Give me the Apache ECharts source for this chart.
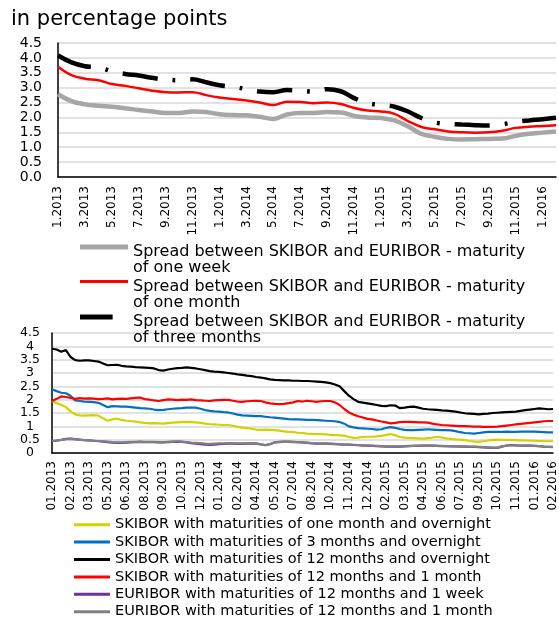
<!DOCTYPE html>
<html>
<head>
<meta charset="utf-8">
<script src="https://cdn.jsdelivr.net/npm/echarts@6/dist/echarts.min.js"></script>
<style>
  html, body { margin: 0; padding: 0; background: #fff; }
  #chart { width: 559px; height: 618px; }
</style>
</head>
<body>
<div id="chart"></div>
<script>
// top panel: monthly spreads, 1.2013 - 2.2016
var months = ['1.2013', '2.2013', '3.2013', '4.2013', '5.2013', '6.2013', '7.2013', '8.2013', '9.2013', '10.2013', '11.2013', '12.2013',
  '1.2014', '2.2014', '3.2014', '4.2014', '5.2014', '6.2014', '7.2014', '8.2014', '9.2014', '10.2014', '11.2014', '12.2014',
  '1.2015', '2.2015', '3.2015', '4.2015', '5.2015', '6.2015', '7.2015', '8.2015', '9.2015', '10.2015', '11.2015', '12.2015',
  '1.2016', '2.2016']
var spreadWeek = [2.78, 2.55, 2.44, 2.39, 2.36, 2.31, 2.25, 2.20, 2.15, 2.15, 2.20, 2.18,
  2.11, 2.08, 2.07, 2.02, 1.95, 2.10, 2.15, 2.15, 2.18, 2.17, 2.05, 2.00,
  1.98, 1.90, 1.70, 1.45, 1.35, 1.28, 1.26, 1.27, 1.28, 1.29, 1.38, 1.45,
  1.49, 1.53]
var spreadMonth = [3.70, 3.42, 3.30, 3.25, 3.12, 3.06, 2.98, 2.90, 2.85, 2.84, 2.85, 2.75,
  2.67, 2.62, 2.57, 2.50, 2.42, 2.53, 2.52, 2.48, 2.50, 2.45, 2.32, 2.23,
  2.20, 2.12, 1.88, 1.68, 1.60, 1.53, 1.50, 1.49, 1.50, 1.55, 1.65, 1.69,
  1.71, 1.74]
var spread3Months = [4.08, 3.85, 3.72, 3.68, 3.55, 3.46, 3.41, 3.33, 3.27, 3.25, 3.28, 3.18,
  3.08, 3.03, 2.95, 2.87, 2.85, 2.92, 2.90, 2.87, 2.95, 2.88, 2.65, 2.48,
  2.42, 2.36, 2.20, 1.98, 1.83, 1.79, 1.76, 1.74, 1.73, 1.77, 1.85, 1.90,
  1.94, 1.99]

// bottom panel: tick labels, 4 observations per label step
var tickLabels = ['01.2013', '02.2013', '03.2013', '05.2013', '06.2013', '08.2013', '09.2013', '10.2013', '12.2013',
  '01.2014', '02.2014', '04.2014', '05.2014', '07.2014', '08.2014', '10.2014', '11.2014', '12.2014',
  '02.2015', '03.2015', '04.2015', '06.2015', '07.2015', '09.2015', '10.2015', '11.2015', '01.2016', '02.2016']
var sk1mOn = [1.95, 1.87, 1.81, 1.72, 1.56, 1.45, 1.41, 1.40, 1.41, 1.42, 1.40, 1.30, 1.21, 1.26, 1.29, 1.24, 1.21, 1.20, 1.18, 1.15,
  1.13, 1.11, 1.12, 1.11, 1.10, 1.12, 1.14, 1.15, 1.16, 1.17, 1.16, 1.15, 1.13, 1.10, 1.08, 1.07, 1.06, 1.05, 1.05, 1.02,
  0.98, 0.95, 0.93, 0.91, 0.88, 0.87, 0.88, 0.87, 0.86, 0.84, 0.81, 0.79, 0.78, 0.76, 0.75, 0.73, 0.72, 0.71, 0.71, 0.70,
  0.68, 0.67, 0.66, 0.65, 0.60, 0.57, 0.58, 0.60, 0.61, 0.61, 0.62, 0.64, 0.68, 0.71, 0.66, 0.60, 0.58, 0.57, 0.56, 0.55,
  0.54, 0.56, 0.58, 0.61, 0.58, 0.55, 0.53, 0.51, 0.50, 0.48, 0.45, 0.43, 0.42, 0.44, 0.47, 0.49, 0.50, 0.49, 0.49, 0.48,
  0.48, 0.47, 0.47, 0.46, 0.46, 0.45, 0.45, 0.44, 0.44]
var sk3mOn = [2.39, 2.32, 2.26, 2.24, 2.15, 1.97, 1.95, 1.93, 1.92, 1.91, 1.88, 1.80, 1.72, 1.76, 1.75, 1.74, 1.74, 1.72, 1.70, 1.68,
  1.67, 1.66, 1.63, 1.61, 1.62, 1.64, 1.66, 1.67, 1.68, 1.70, 1.70, 1.70, 1.66, 1.61, 1.58, 1.56, 1.55, 1.53, 1.52, 1.48,
  1.44, 1.41, 1.40, 1.39, 1.38, 1.38, 1.36, 1.34, 1.33, 1.31, 1.29, 1.27, 1.26, 1.26, 1.25, 1.24, 1.24, 1.23, 1.22, 1.21,
  1.20, 1.19, 1.16, 1.10, 1.00, 0.96, 0.93, 0.92, 0.91, 0.90, 0.88, 0.89, 0.94, 0.97, 0.94, 0.90, 0.87, 0.86, 0.86, 0.87,
  0.88, 0.89, 0.88, 0.87, 0.86, 0.86, 0.85, 0.82, 0.78, 0.75, 0.74, 0.73, 0.75, 0.77, 0.79, 0.79, 0.79, 0.79, 0.80, 0.79,
  0.79, 0.80, 0.80, 0.80, 0.80, 0.79, 0.78, 0.77, 0.77]
var sk12mOn = [3.91, 3.88, 3.80, 3.86, 3.60, 3.48, 3.46, 3.47, 3.47, 3.45, 3.43, 3.36, 3.29, 3.30, 3.31, 3.27, 3.25, 3.24, 3.22, 3.21,
  3.20, 3.19, 3.17, 3.11, 3.09, 3.13, 3.16, 3.18, 3.19, 3.21, 3.19, 3.17, 3.14, 3.11, 3.07, 3.05, 3.04, 3.02, 3.00, 2.98,
  2.95, 2.93, 2.90, 2.88, 2.85, 2.83, 2.80, 2.76, 2.74, 2.73, 2.72, 2.72, 2.71, 2.71, 2.70, 2.70, 2.69, 2.68, 2.67, 2.65,
  2.62, 2.57, 2.50, 2.32, 2.15, 2.02, 1.92, 1.89, 1.86, 1.83, 1.80, 1.77, 1.76, 1.79, 1.78, 1.68, 1.70, 1.73, 1.74, 1.70,
  1.66, 1.64, 1.63, 1.62, 1.60, 1.59, 1.57, 1.55, 1.52, 1.49, 1.48, 1.47, 1.45, 1.47, 1.48, 1.50, 1.51, 1.52, 1.53, 1.54,
  1.55, 1.58, 1.61, 1.63, 1.65, 1.67, 1.66, 1.64, 1.65]
var sk12m1m = [1.95, 2.03, 2.12, 2.10, 2.07, 2.03, 2.06, 2.04, 2.05, 2.04, 2.02, 2.03, 2.05, 2.01, 2.03, 2.04, 2.03, 2.05, 2.07, 2.08,
  2.02, 2.00, 1.97, 1.95, 1.98, 2.01, 2.00, 1.98, 2.00, 1.99, 2.01, 1.98, 1.97, 1.96, 1.95, 1.97, 1.98, 1.99, 1.99, 1.96,
  1.93, 1.92, 1.94, 1.95, 1.96, 1.95, 1.90, 1.86, 1.84, 1.83, 1.84, 1.87, 1.90, 1.95, 1.93, 1.96, 1.94, 1.92, 1.94, 1.95,
  1.95, 1.90, 1.80, 1.65, 1.52, 1.44, 1.38, 1.33, 1.28, 1.26, 1.22, 1.18, 1.15, 1.11, 1.13, 1.16, 1.17, 1.17, 1.16, 1.15,
  1.15, 1.14, 1.10, 1.07, 1.05, 1.04, 1.03, 1.02, 1.01, 1.01, 1.00, 0.99, 0.99, 0.98, 0.98, 0.98, 0.99, 1.01, 1.03, 1.05,
  1.07, 1.09, 1.11, 1.13, 1.15, 1.17, 1.19, 1.20, 1.20]
var eu12m1w = [0.45, 0.46, 0.49, 0.53, 0.54, 0.52, 0.50, 0.48, 0.47, 0.46, 0.44, 0.43, 0.41, 0.39, 0.38, 0.38, 0.39, 0.40, 0.41, 0.42,
  0.41, 0.41, 0.41, 0.40, 0.40, 0.41, 0.42, 0.43, 0.42, 0.40, 0.37, 0.35, 0.33, 0.31, 0.30, 0.31, 0.33, 0.34, 0.35, 0.35,
  0.34, 0.34, 0.35, 0.36, 0.35, 0.32, 0.29, 0.33, 0.40, 0.42, 0.43, 0.43, 0.42, 0.41, 0.40, 0.38, 0.36, 0.35, 0.35, 0.35,
  0.34, 0.33, 0.32, 0.31, 0.31, 0.30, 0.29, 0.28, 0.28, 0.27, 0.26, 0.25, 0.24, 0.24, 0.24, 0.24, 0.25, 0.26, 0.27, 0.27,
  0.28, 0.28, 0.28, 0.27, 0.26, 0.26, 0.25, 0.25, 0.24, 0.24, 0.23, 0.23, 0.22, 0.21, 0.20, 0.19, 0.19, 0.24, 0.28, 0.30,
  0.29, 0.28, 0.28, 0.28, 0.27, 0.26, 0.24, 0.23, 0.22]
var eu12m1m = [0.46, 0.47, 0.49, 0.52, 0.53, 0.51, 0.49, 0.48, 0.47, 0.46, 0.45, 0.44, 0.43, 0.41, 0.40, 0.40, 0.41, 0.42, 0.42, 0.43,
  0.42, 0.42, 0.42, 0.41, 0.41, 0.42, 0.43, 0.44, 0.43, 0.41, 0.39, 0.38, 0.37, 0.35, 0.34, 0.35, 0.36, 0.36, 0.37, 0.37,
  0.36, 0.36, 0.36, 0.37, 0.36, 0.33, 0.30, 0.34, 0.40, 0.41, 0.42, 0.42, 0.41, 0.41, 0.40, 0.39, 0.37, 0.36, 0.36, 0.36,
  0.35, 0.34, 0.33, 0.32, 0.32, 0.31, 0.30, 0.29, 0.29, 0.28, 0.27, 0.26, 0.26, 0.25, 0.25, 0.25, 0.26, 0.27, 0.27, 0.28,
  0.28, 0.28, 0.28, 0.27, 0.27, 0.26, 0.26, 0.25, 0.25, 0.25, 0.24, 0.24, 0.23, 0.22, 0.21, 0.20, 0.20, 0.25, 0.28, 0.29,
  0.28, 0.28, 0.28, 0.28, 0.27, 0.26, 0.24, 0.23, 0.23]

var FONT = 'DejaVu Sans, Verdana, sans-serif'
var STEP = 4

// one category per observation, the label only at each step
var obsDates = []
tickLabels.forEach(function (lab, k) {
  obsDates.push(lab)
  if (k < tickLabels.length - 1) {
    for (var j = 1; j < STEP; j++) obsDates.push(lab + '#' + j)
  }
})

var topNames = [
  'Spread between SKIBOR and EURIBOR - maturity\nof one week',
  'Spread between SKIBOR and EURIBOR - maturity\nof one month',
  'Spread between SKIBOR and EURIBOR - maturity\nof three months'
]
var botNames = [
  'SKIBOR with maturities of one month and overnight',
  'SKIBOR with maturities of 3 months and overnight',
  'SKIBOR with maturities of 12 months and overnight',
  'SKIBOR with maturities of 12 months and 1 month',
  'EURIBOR with maturities of 12 months and 1 week',
  'EURIBOR with maturities of 12 months and 1 month'
]
var botColors = ['#d2d200', '#0070c0', '#000000', '#ff0000', '#7030a0', '#808080']
var botData = [sk1mOn, sk3mOn, sk12mOn, sk12m1m, eu12m1w, eu12m1m]

function axisLine() {
  return { show: true, lineStyle: { color: '#000', width: 1.5 } }
}
function gridLines() {
  return { show: true, lineStyle: { color: '#d9d9d9', width: 1.5 } }
}

var chart = echarts.init(document.getElementById('chart'))

chart.setOption({
  animation: false,
  textStyle: { fontFamily: FONT },
  title: {
    text: 'in percentage points',
    left: 11,
    top: 9,
    padding: 0,
    textStyle: { fontFamily: FONT, fontSize: 21, fontWeight: 'normal', color: '#000' }
  },
  grid: [
    { left: 58, right: 3, top: 43, height: 134 },
    { left: 52, right: 3, top: 333, height: 120 }
  ],
  legend: [
    {
      orient: 'vertical',
      left: 80,
      top: 244,
      padding: 0,
      height: 120,
      itemWidth: 48,
      itemHeight: 32,
      itemGap: 3,
      itemStyle: { borderWidth: 0 },
      textStyle: { fontFamily: FONT, fontSize: 16, lineHeight: 16, color: '#000' },
      data: [
        { name: topNames[0], icon: 'path://M0,0H50V5H0Z M49.9,32H50V32.1H49.9Z' },
        { name: topNames[1], icon: 'path://M0,1H50V4H0Z M49.9,32H50V32.1H49.9Z' },
        { name: topNames[2], icon: 'path://M0,0H34V5H0Z M49.9,32H50V32.1H49.9Z' }
      ]
    },
    {
      orient: 'vertical',
      left: 74,
      top: 516,
      padding: 0,
      height: 130,
      itemWidth: 36,
      itemHeight: 3,
      itemGap: 0,
      icon: 'rect',
      itemStyle: { borderWidth: 0 },
      textStyle: { fontFamily: FONT, fontSize: 14.5, lineHeight: 17.4, color: '#000' },
      data: botNames
    }
  ],
  xAxis: [
    {
      type: 'category',
      gridIndex: 0,
      data: months,
      boundaryGap: false,
      axisLine: axisLine(),
      axisTick: { show: false },
      axisLabel: { interval: 1, rotate: 90, margin: 9, fontSize: 12, color: '#000', fontFamily: FONT, hideOverlap: false }
    },
    {
      type: 'category',
      gridIndex: 1,
      data: obsDates,
      boundaryGap: false,
      axisLine: axisLine(),
      axisTick: { show: false },
      axisLabel: {
        interval: STEP - 1,
        rotate: 90,
        margin: 8,
        fontSize: 12,
        color: '#000',
        fontFamily: FONT,
        hideOverlap: false,
        formatter: function (v) { return v.split('#')[0] }
      }
    }
  ],
  yAxis: [
    {
      type: 'value',
      gridIndex: 0,
      min: 0,
      max: 4.5,
      interval: 0.5,
      axisLine: axisLine(),
      axisTick: { show: false },
      splitLine: gridLines(),
      axisLabel: {
        margin: 16, fontSize: 14, lineHeight: 13, color: '#000', fontFamily: FONT,
        showMinLabel: true, showMaxLabel: true, hideOverlap: false,
        formatter: function (v) { return v.toFixed(1) }
      }
    },
    {
      type: 'value',
      gridIndex: 1,
      min: 0,
      max: 4.5,
      interval: 0.5,
      axisLine: axisLine(),
      axisTick: { show: false },
      splitLine: gridLines(),
      axisLabel: {
        margin: 22, align: 'center', fontSize: 12.5, lineHeight: 11, color: '#000', fontFamily: FONT,
        showMinLabel: true, showMaxLabel: true, hideOverlap: false
      }
    }
  ],
  series: [
    {
      name: topNames[0],
      type: 'line',
      xAxisIndex: 0,
      yAxisIndex: 0,
      data: spreadWeek,
      smooth: 0.4,
      showSymbol: false,
      itemStyle: { color: '#a6a6a6' },
      lineStyle: { color: '#a6a6a6', width: 4.5 }
    },
    {
      name: topNames[1],
      type: 'line',
      xAxisIndex: 0,
      yAxisIndex: 0,
      data: spreadMonth,
      smooth: 0.4,
      showSymbol: false,
      itemStyle: { color: '#ff0000' },
      lineStyle: { color: '#ff0000', width: 2.5 }
    },
    {
      name: topNames[2],
      type: 'line',
      xAxisIndex: 0,
      yAxisIndex: 0,
      data: spread3Months,
      smooth: 0.4,
      showSymbol: false,
      itemStyle: { color: '#000000' },
      lineStyle: { color: '#000000', width: 4.5, type: [35, 15, 3, 15] }
    }
  ].concat(botNames.map(function (name, i) {
    return {
      name: name,
      type: 'line',
      xAxisIndex: 1,
      yAxisIndex: 1,
      data: botData[i],
      showSymbol: false,
      itemStyle: { color: botColors[i] },
      lineStyle: { color: botColors[i], width: 2.2 }
    }
  }))
})
</script>
</body>
</html>
